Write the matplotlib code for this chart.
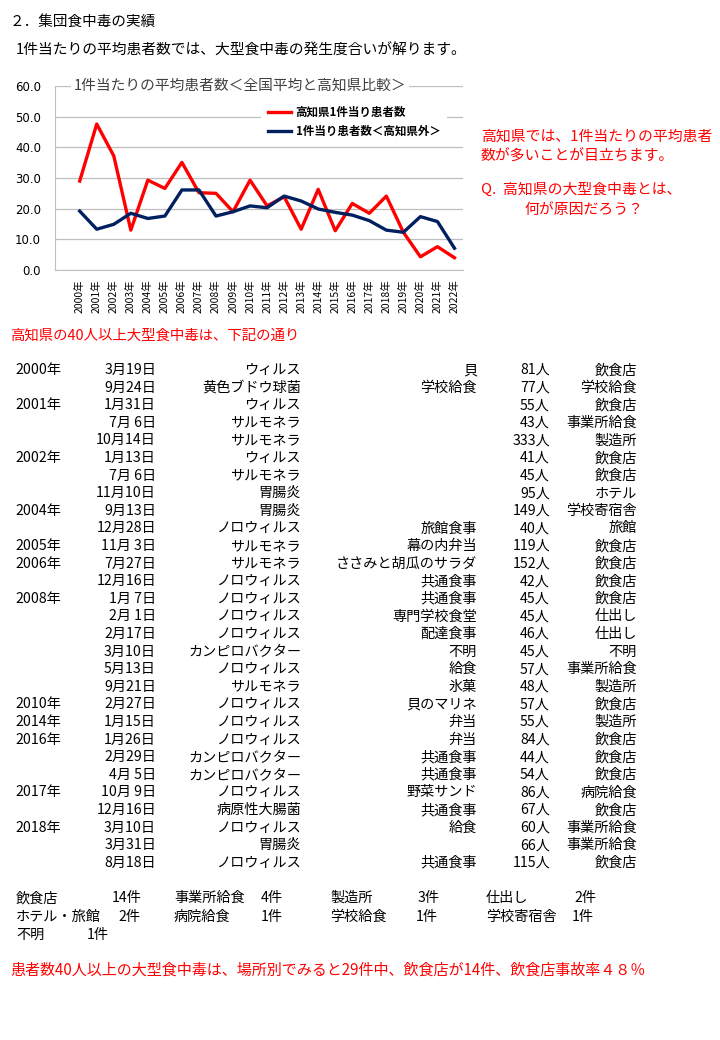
import numpy as np
import matplotlib
matplotlib.use("Agg")
import matplotlib.pyplot as plt

plt.rcParams['font.family'] = ['Noto Sans CJK JP', 'DejaVu Sans']

# chart data
years = [str(y) + "年" for y in range(2000, 2023)]
kochi = [29.0, 47.6, 37.2, 13.0, 29.3, 26.6, 35.1, 25.2, 25.0, 19.0, 29.3, 20.9,
         23.9, 13.3, 26.3, 12.8, 21.7, 18.5, 24.1, 12.3, 4.3, 7.6, 4.0]
others = [19.2, 13.3, 14.9, 18.5, 16.8, 17.6, 26.1, 26.1, 17.6, 19.0, 20.9, 20.3,
          24.1, 22.5, 19.9, 18.8, 17.9, 16.1, 13.0, 12.3, 17.4, 15.8, 7.1]
legend_names = ["高知県1件当り患者数", "1件当り患者数＜高知県外＞"]

# table data
t_year = ["2000年", "", "2001年", "", "", "2002年", "", "", "2004年", "", "2005年",
          "2006年", "", "2008年", "", "", "", "", "", "2010年", "2014年", "2016年",
          "", "", "2017年", "", "2018年", "", ""]
t_date = ["3月19日", "9月24日", "1月31日", "7月 6日", "10月14日", "1月13日", "7月 6日",
          "11月10日", "9月13日", "12月28日", "11月 3日", "7月27日", "12月16日", "1月 7日",
          "2月 1日", "2月17日", "3月10日", "5月13日", "9月21日", "2月27日", "1月15日",
          "1月26日", "2月29日", "4月 5日", "10月 9日", "12月16日", "3月10日", "3月31日",
          "8月18日"]
t_cause = ["ウィルス", "黄色ブドウ球菌", "ウィルス", "サルモネラ", "サルモネラ", "ウィルス",
           "サルモネラ", "胃腸炎", "胃腸炎", "ノロウィルス", "サルモネラ", "サルモネラ",
           "ノロウィルス", "ノロウィルス", "ノロウィルス", "ノロウィルス", "カンピロバクター",
           "ノロウィルス", "サルモネラ", "ノロウィルス", "ノロウィルス", "ノロウィルス",
           "カンピロバクター", "カンピロバクター", "ノロウィルス", "病原性大腸菌",
           "ノロウィルス", "胃腸炎", "ノロウィルス"]
t_food = ["貝", "学校給食", "", "", "", "", "", "", "", "旅館食事", "幕の内弁当",
          "ささみと胡瓜のサラダ", "共通食事", "共通食事", "専門学校食堂", "配達食事", "不明",
          "給食", "氷菓", "貝のマリネ", "弁当", "弁当", "共通食事", "共通食事", "野菜サンド",
          "共通食事", "給食", "", "共通食事"]
t_count = [81, 77, 55, 43, 333, 41, 45, 95, 149, 40, 119, 152, 42, 45, 45, 46, 45,
           57, 48, 57, 55, 84, 44, 54, 86, 67, 60, 66, 115]
t_place = ["飲食店", "学校給食", "飲食店", "事業所給食", "製造所", "飲食店", "飲食店",
           "ホテル", "学校寄宿舎", "旅館", "飲食店", "飲食店", "飲食店", "飲食店", "仕出し",
           "仕出し", "不明", "事業所給食", "製造所", "飲食店", "製造所", "飲食店", "飲食店",
           "飲食店", "病院給食", "飲食店", "事業所給食", "事業所給食", "飲食店"]

# summary by place
s_names = ["飲食店", "事業所給食", "製造所", "仕出し",
           "ホテル・旅館", "病院給食", "学校給食", "学校寄宿舎", "不明"]
s_counts = [14, 4, 3, 2, 2, 1, 1, 1, 1]

W, H = 720, 1040
fig = plt.figure(figsize=(W / 100, H / 100), dpi=100)
RED = "#ff0000"


def txt(x, y, s, **kw):
    # x, y in pixels from top-left
    fig.text(x / W, 1 - y / H, s, va="center", **kw)


txt(10, 22, "２．集団食中毒の実績", fontsize=10.5)
txt(16, 51, "1件当たりの平均患者数では、大型食中毒の発生度合いが解ります。", fontsize=10.65)

# line chart
ax = fig.add_axes([55 / W, 1 - 270 / H, 408 / W, 184 / H])
x = np.arange(len(years))
ax.plot(x, kochi, color=RED, lw=2.4, label=legend_names[0], zorder=3)
ax.plot(x, others, color="#002060", lw=2.4, label=legend_names[1], zorder=3)
ax.set_ylim(0, 60)
ax.set_xlim(-1.45, 22.5)
ax.set_yticks(np.arange(0, 61, 10))
ax.set_yticklabels(["%.1f" % v for v in np.arange(0, 61, 10)], family="DejaVu Sans",
                   fontsize=8.5)
ax.set_xticks(x)
ax.set_xticklabels(years, rotation=90, fontsize=7.5)
ax.tick_params(axis="y", length=0, pad=10)
ax.tick_params(axis="x", length=0, pad=7)
ax.grid(axis="y", color="#bfbfbf", lw=0.9)
ax.set_axisbelow(True)
for s in ["top", "right"]:
    ax.spines[s].set_visible(False)
ax.spines["left"].set_color("#bfbfbf")
ax.spines["bottom"].set_color("#bfbfbf")
ax.text(0.045, 1.0, "1件当たりの平均患者数＜全国平均と高知県比較＞", transform=ax.transAxes,
        ha="left", va="center", fontsize=10.6, color="#404040",
        bbox=dict(fc="white", ec="none", pad=2), clip_on=False, zorder=5)
leg = ax.legend(loc="upper left", bbox_to_anchor=(0.505, 0.93), frameon=True,
                prop=dict(weight="bold", size=8.3), handlelength=2.0,
                handletextpad=0.4, borderaxespad=0, labelspacing=0.55,
                fancybox=False, borderpad=0.6)
leg.get_frame().set_facecolor("white")
leg.get_frame().set_edgecolor("none")
leg.get_frame().set_alpha(1)

# comment on the right
txt(481, 137, "高知県では、1件当たりの平均患者", fontsize=10.7, color=RED)
txt(481, 157, "数が多いことが目立ちます。", fontsize=10.7, color=RED)
txt(481, 190, "Q.  高知県の大型食中毒とは、", fontsize=10.7, color=RED)
txt(524, 210, "何が原因だろう？", fontsize=10.7, color=RED)

txt(10, 336, "高知県の40人以上大型食中毒は、下記の通り", fontsize=10.4, color=RED)

# table of incidents
y0, dy = 370, 17.6
for i in range(len(t_date)):
    y = y0 + i * dy
    txt(15, y, t_year[i], fontsize=10.2)
    txt(156, y, t_date[i], fontsize=10.2, ha="right")
    txt(301, y, t_cause[i], fontsize=10.2, ha="right")
    txt(477, y, t_food[i], fontsize=10.2, ha="right")
    txt(550, y, "%d人" % t_count[i], fontsize=10.2, ha="right")
    txt(637, y, t_place[i], fontsize=10.2, ha="right")

# summary
name_x = [16, 174, 330, 486]
cnt_x = [[112, 261, 418, 574], [118, 261, 416, 572], [87]]
for k in range(len(s_names)):
    r, c = divmod(k, 4)
    y = 898 + r * 18.5
    txt(name_x[c], y, s_names[k], fontsize=10.2)
    txt(cnt_x[r][c], y, "%d件" % s_counts[k], fontsize=10.2)

txt(10, 970, "患者数40人以上の大型食中毒は、場所別でみると29件中、飲食店が14件、飲食店事故率４８％",
    fontsize=10.85, color=RED)

fig.savefig("out.png", dpi=100, facecolor="white")
